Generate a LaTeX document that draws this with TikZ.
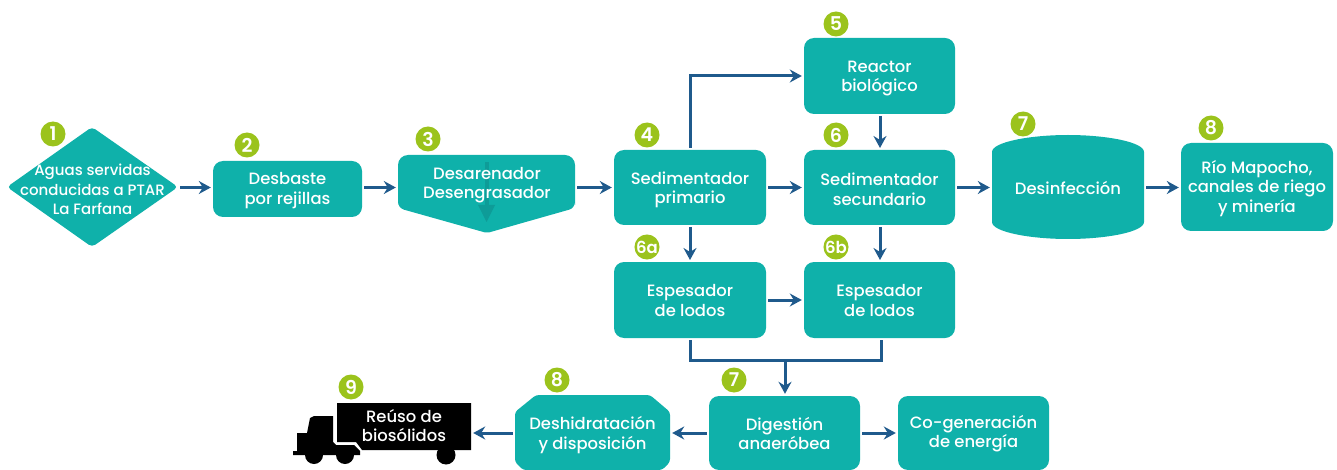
\documentclass[tikz,border=0pt]{standalone}
\usepackage{fontspec}
\setmainfont{Poppins}[UprightFont=* Medium,BoldFont=* SemiBold]
\usetikzlibrary{arrows.meta}
\definecolor{tealbox}{HTML}{0FB1AA}
\definecolor{tealdark}{HTML}{0E9C98}
\definecolor{leaf}{HTML}{9BC31C}
\definecolor{flow}{HTML}{1F5A8C}
\newcommand{\bx}[7]{% name, x0, y0, x1, y1, text, text shift
  \node[procbox, minimum width=#4pt-#2pt, minimum height=#5pt-#3pt] (#1) at ({(#2+#4)/2},{(#3+#5)/2}) {};
  \node[textframe] (#1t) at ([yshift=-#7pt]#1.center) {#6};}
\tikzset{
  procbox/.style={fill=tealbox, rounded corners=10pt, inner sep=0pt},
  textframe/.style={text=white, inner sep=0pt, align=center, font=\fontsize{16.4}{19.5}\selectfont},
  framebox/.style={inner sep=0pt},
  badge/.style={circle, fill=leaf, text=white, minimum size=25pt, inner sep=0pt, font=\bfseries\fontsize{19}{19}\selectfont},
  badgesmall/.style={badge, font=\bfseries\fontsize{16.5}{16.5}\selectfont},
  flowline/.style={draw=flow, line width=3pt, -{Stealth[length=12pt,width=13pt,inset=4pt]}, shorten >=2pt, shorten <=2pt},
  plainline/.style={draw=flow, line width=3pt},
}
\begin{document}
\begin{tikzpicture}[x=1pt,y=-1pt]
\useasboundingbox (0,0) rectangle (1337,470);

% special outlines
\fill[tealbox, rounded corners=4pt] (7,187) -- (92,127) -- (178,187) -- (92,247) -- cycle;
\fill[tealbox, rounded corners=10pt] (398,195) -- (398,155) -- (575,155) -- (575,195) [rounded corners=6pt] -- (575,208) [rounded corners=2pt] -- (487,233) [rounded corners=6pt] -- (398,208) -- cycle;
\fill[tealbox] (992,152) .. controls (992,142) and (1030,135) .. (1068,135) .. controls (1106,135) and (1144,142) .. (1144,152)
  -- (1144,222) .. controls (1144,232) and (1106,239) .. (1068,239) .. controls (1030,239) and (992,232) .. (992,222) -- cycle;
\fill[tealbox, rounded corners=3pt] (523,470) -- (515,462) -- (515,412) -- (536,395) -- (650,395) -- (670,412) -- (670,462) -- (662,470) -- cycle;
\fill[tealdark] (484.5,162) rectangle (488.5,208);
\fill[tealdark] (478,205) -- (495,205) -- (486.5,222) -- cycle;

% truck
\fill[black] (337,403) -- (471,403) -- (471,450) -- (362,450) -- (356,442) -- (337,442) -- cycle;
\fill[black] (293,455) -- (293,451) -- (297,451) -- (297,433) -- (307,433) -- (310,418) -- (314,416) -- (333,416)
  -- (333,442) -- (336,445) -- (354,445) -- (360,451) -- (360,455) -- cycle;
\fill[black] (314,455) circle (9);
\fill[black] (345,455) circle (9);
\fill[black] (446,455) circle (9.5);

% nodes
\node[framebox, minimum width=171pt, minimum height=120pt] (n1) at (92.5,187) {};
\node[textframe, font=\fontsize{15}{19.5}\selectfont] (n1t) at (92.5,189.5) {Aguas servidas\\conducidas a PTAR\\La Farfana};
\bx{n2}{213}{161}{362}{217}{Desbaste\\por rejillas}{1.5}
\node[framebox, minimum width=177pt, minimum height=77pt] (n3) at (486.5,193.5) {};
\node[textframe] (n3t) at (487,185) {Desarenador\\Desengrasador};
\bx{n4}{614}{150}{766}{225}{Sedimentador\\primario}{2.3}
\bx{n5}{804}{38}{955}{114}{Reactor\\biológico}{2.3}
\bx{n6}{804}{150}{955}{225}{Sedimentador\\secundario}{1.8}
\node[framebox, minimum width=152pt, minimum height=104pt] (n7) at (1068,187) {};
\node[textframe] (n7t) at (1068,187.5) {Desinfección};
\bx{n8}{1181}{143}{1333}{231}{Río Mapocho,\\canales de riego\\y minería}{1.5}
\bx{n6a}{614}{262}{766}{338}{Espesador\\de lodos}{0.5}
\bx{n6b}{804}{262}{955}{338}{Espesador\\de lodos}{0.5}
\bx{n10}{709}{396}{860}{470}{Digestión\\anaeróbea}{0.5}
\bx{n11}{898}{396}{1049}{470}{Co-generación\\de energía}{0.5}
\node[framebox, minimum width=155pt, minimum height=75pt] (n12) at (592.5,432.5) {};
\node[textframe] (n12t) at (592.5,435) {Deshidratación\\y disposición};
\node[framebox, minimum width=134pt, minimum height=47pt] (n13) at (404,426.5) {};
\node[textframe] (n13t) at (404,425.5) {Reúso de\\biosólidos};

% badges
\node[badge] (b1) at (53,134) {1};
\node[badge] (b2) at (247,145) {2};
\node[badge] (b3) at (428,139) {3};
\node[badge] (b4) at (647,135) {4};
\node[badge] (b5) at (836,24) {5};
\node[badge] (b6) at (836,135) {6};
\node[badge] (b7) at (1023,124) {7};
\node[badge] (b8) at (1211,128) {8};
\node[badgesmall] (b6a) at (647,247) {6a};
\node[badgesmall] (b6b) at (836,247) {6b};
\node[badge] (b7b) at (734,380) {7};
\node[badge] (b8b) at (557,380) {8};
\node[badge] (b9) at (351,387) {9};

% connectors
\coordinate (railA) at (0,187.5);
\coordinate (railB) at (0,433);
\draw[flowline] (n1.east |- railA) -- (n2.west |- railA);
\draw[flowline] (n2.east |- railA) -- (n3.west |- railA);
\draw[flowline] (n3.east |- railA) -- (n4.west |- railA);
\draw[flowline] (n4.east |- railA) -- (n6.west |- railA);
\draw[flowline] (n6.east |- railA) -- (n7.west |- railA);
\draw[flowline] (n7.east |- railA) -- (n8.west |- railA);
\draw[flowline] (690,150) -- (690,76) -- (n5.west);
\draw[flowline] (880,114) -- (880,150);
\draw[flowline] (690,225) -- (690,262);
\draw[flowline] (880,225) -- (880,262);
\draw[flowline] (n6a.east) -- (n6b.west);
\coordinate (merge) at (785,360);
\draw[plainline, line join=miter] (690,340) -- (690,360) -- (881,360) -- (881,340);
\draw[flowline, shorten <=0pt] (merge) -- (merge |- n10.north);
\draw[flowline] (n10.west |- railB) -- (n12.east |- railB);
\draw[flowline] (n10.east |- railB) -- (n11.west |- railB);
\draw[flowline] (n12.west |- railB) -- (n13.east |- railB);
\end{tikzpicture}
\end{document}
